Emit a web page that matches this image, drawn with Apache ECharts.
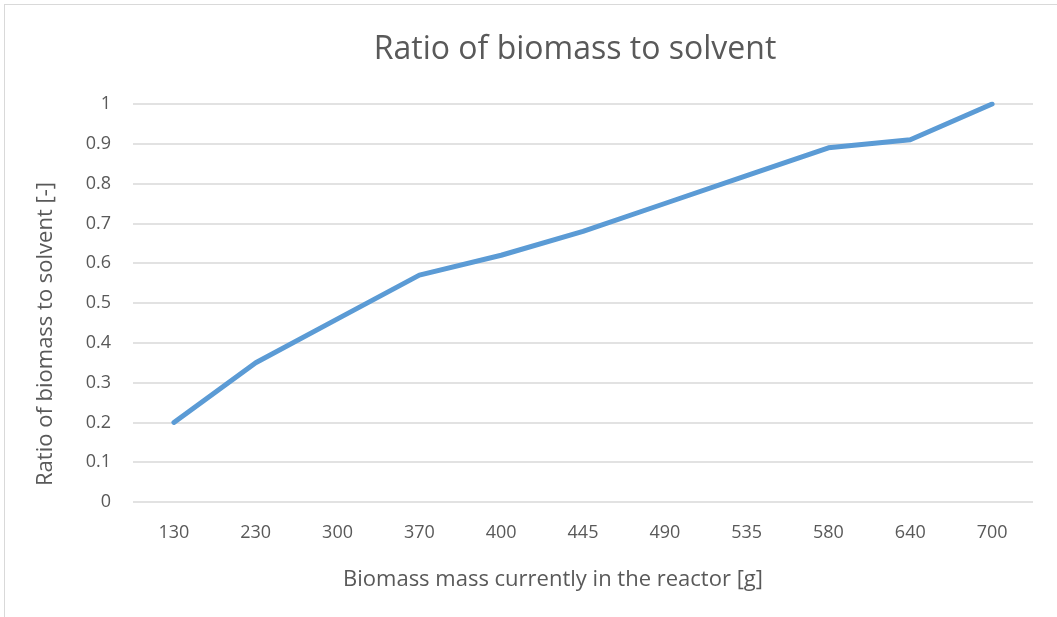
<!DOCTYPE html>
<html>
<head>
<meta charset="utf-8">
<script src="https://cdn.jsdelivr.net/npm/echarts@6/dist/echarts.min.js"></script>
<style>
  html, body { margin: 0; padding: 0; background: #fff; overflow: hidden; }
  #frame { position: absolute; left: 4px; top: 4px; width: 1070px; height: 640px; border: 1px solid #d9d9d9; box-sizing: border-box; }
  #chart { position: absolute; left: 0; top: 0; width: 1057px; height: 617px; }
</style>
</head>
<body>
<div id="frame"></div>
<div id="chart"></div>
<script>
// biomass mass in reactor [g]
var massLabels = ['130', '230', '300', '370', '400', '445', '490', '535', '580', '640', '700']
// ratio of biomass to solvent [-]
var ratioValues = [0.2, 0.35, 0.46, 0.57, 0.62, 0.68, 0.75, 0.82, 0.89, 0.91, 1.0]

var font = '"Liberation Sans Narrow", "Open Sans", sans-serif'
var grey = '#595959'
var chart = echarts.init(document.getElementById('chart'))
chart.setOption({
  backgroundColor: 'transparent',
  animation: false,
  graphic: [
    {
      type: 'text', x: 575, y: 50,
      style: { text: 'Ratio of biomass to solvent', font: '32px ' + font, fill: grey, align: 'center', verticalAlign: 'middle' }
    },
    {
      type: 'text', x: 553, y: 580,
      style: { text: 'Biomass mass currently in the reactor [g]', font: '22px ' + font, fill: grey, align: 'center', verticalAlign: 'middle' }
    },
    {
      type: 'text', x: 46, y: 334, rotation: Math.PI / 2,
      style: { text: 'Ratio of biomass to solvent [-]', font: '22px ' + font, fill: grey, align: 'center', verticalAlign: 'middle' }
    }
  ],
  grid: { left: 133, right: 24, top: 104, bottom: 115 },
  xAxis: {
    type: 'category',
    data: massLabels,
    boundaryGap: true,
    axisLine: { show: false },
    axisTick: { show: false },
    axisLabel: { fontFamily: font, fontSize: 18, color: grey, margin: 22 }
  },
  yAxis: {
    type: 'value',
    min: 0,
    max: 1,
    interval: 0.1,
    axisLine: { show: false },
    axisTick: { show: false },
    axisLabel: {
      fontFamily: font, fontSize: 18, color: grey, margin: 22,
      formatter: function (v) { return String(Math.round(v * 10) / 10) }
    },
    splitLine: { lineStyle: { color: '#d9d9d9', width: 1.5 } }
  },
  series: [{
    type: 'line',
    data: ratioValues,
    symbol: 'none',
    lineStyle: { color: '#5b9bd5', width: 5, cap: 'round', join: 'round' }
  }]
})
</script>
</body>
</html>
